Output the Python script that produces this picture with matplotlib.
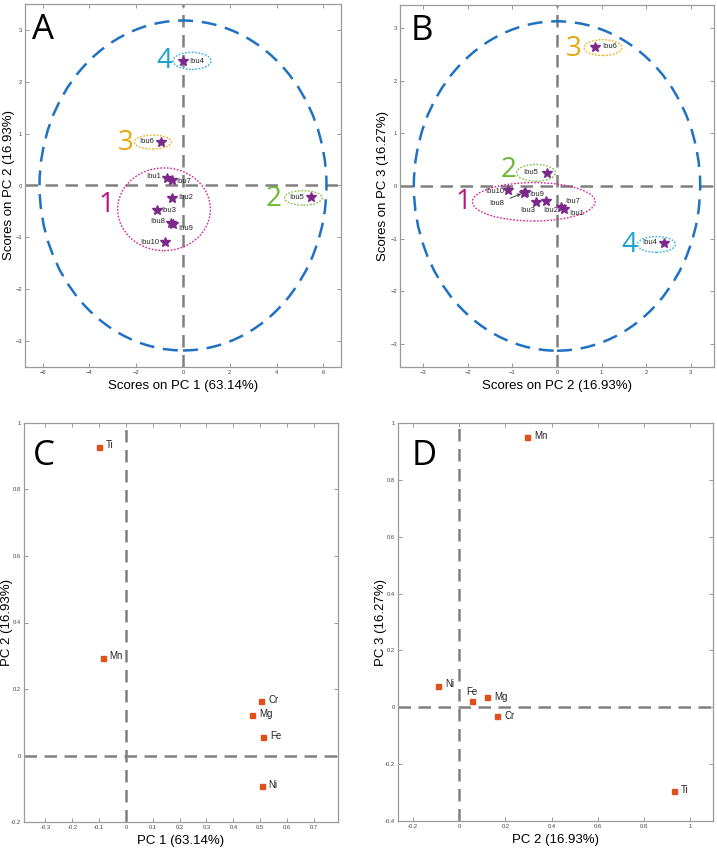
import matplotlib
matplotlib.use("Agg")
import matplotlib.pyplot as plt
from matplotlib.patches import Ellipse

plt.rcParams['font.family'] = ['Liberation Sans', 'DejaVu Sans']

# ---------------- data ----------------
samples = ["Ibu1", "Ibu2", "Ibu3", "Ibu4", "Ibu5", "Ibu6", "Ibu7", "Ibu8", "Ibu9", "Ibu10"]
pc1_scores = [-0.68, -0.46, -1.11, -0.01, 5.45, -0.93, -0.47, -0.51, -0.44, -0.78]
pc2_scores = [0.15, -0.24, -0.48, 2.40, -0.23, 0.85, 0.10, -0.72, -0.75, -1.10]
pc3_scores = [-0.44, -0.28, -0.31, -1.08, 0.25, 2.65, -0.40, -0.12, -0.14, -0.08]

elements = ["Ti", "Mn", "Cr", "Mg", "Fe", "Ni"]
pc1_load = [-0.102, -0.087, 0.504, 0.469, 0.512, 0.505]
pc2_load = [0.929, 0.294, 0.164, 0.122, 0.055, -0.092]
pc3_load = [-0.295, 0.951, -0.029, 0.036, 0.021, 0.076]

group_names = ["1", "2", "3", "4"]
# group ellipses: centre x, centre y, width, height (panel A: PC1 vs PC2)
groupA_cx = [-0.81, 5.14, -1.29, 0.385]
groupA_cy = [-0.46, -0.24, 0.84, 2.41]
groupA_w = [3.96, 1.61, 1.58, 1.62]
groupA_h = [1.60, 0.28, 0.27, 0.33]
groupA_lx = [-3.28, 3.87, -2.46, -0.80]
groupA_ly = [-0.38, -0.27, 0.83, 2.40]
# panel B: PC2 vs PC3
groupB_cx = [-0.52, -0.47, 1.03, 2.23]
groupB_cy = [-0.30, 0.25, 2.63, -1.11]
groupB_w = [2.75, 0.87, 0.85, 0.85]
groupB_h = [0.73, 0.32, 0.30, 0.30]
groupB_lx = [-2.10, -1.08, 0.37, 1.63]
groupB_ly = [-0.30, 0.30, 2.60, -1.13]

conf_A = (6.13, 3.19)   # Hotelling ellipse half-axes
conf_B = (3.21, 3.13)

# ---------------- styles ----------------
group_text_col = ["#B5177F", "#6DB832", "#E8A70C", "#1CA3CF"]
group_ell_col = ["#D8238E", "#7DC142", "#EDB11A", "#2AB0DA"]
star_col = "#7B2A8A"
sq_col = "#E0501B"
blue = "#1F72C2"
gray = "#808080"

# label offsets (points) and alignment for each sample
offA = {"Ibu1": (-4, 1, 'right'), "Ibu2": (4, 0, 'left'), "Ibu3": (3, 0, 'left'),
        "Ibu4": (5, 0, 'left'), "Ibu5": (-5, 0, 'right'), "Ibu6": (-5, 0, 'right'),
        "Ibu7": (3, -1, 'left'), "Ibu8": (-4, 1, 'right'), "Ibu9": (4, -3, 'left'),
        "Ibu10": (-4, 0, 'right')}
offB = {"Ibu1": (4, -3, 'left'), "Ibu2": (-2, -7, 'left'), "Ibu3": (-11, -6, 'left'),
        "Ibu4": (-5, 0, 'right'), "Ibu5": (-6, 0, 'right'), "Ibu6": (5, 0, 'left'),
        "Ibu7": (3, 4, 'left'), "Ibu9": (4, -1, 'left'), "Ibu10": (-3, -1, 'right')}
offC = {e: (5, 1, 'left') for e in elements}
offD = {"Ti": (5, 1, 'left'), "Mn": (5, 1, 'left'), "Cr": (5, 0, 'left'),
        "Mg": (5, 0, 'left'), "Fe": (0, 7, 'center'), "Ni": (5, 1, 'left')}

W, H = 717, 863
fig = plt.figure(figsize=(W / 100, H / 100), dpi=100)


def px_axes(l, r, t, b):
    return fig.add_axes([l / W, 1 - b / H, (r - l) / W, (b - t) / H])


def style_axes(ax):
    for s in ax.spines.values():
        s.set_color("#9a9a9a")
        s.set_linewidth(0.9)
    ax.tick_params(direction='in', length=3, width=0.6, color="#888888",
                   labelsize=4.2, labelcolor="#444444", pad=2,
                   top=True, right=True)


def set_labels(ax, xl, yl, ylx):
    ax.set_xlabel(xl, fontsize=9.5, labelpad=4)
    ax.set_ylabel(yl, fontsize=9.5)
    ax.yaxis.set_label_coords(ylx, 0.5)
    ax.yaxis.label.set_verticalalignment('center')


def zero_lines(ax):
    ax.axhline(0, color=gray, lw=1.8, ls=(0, (5, 3)), zorder=1)
    ax.axvline(0, color=gray, lw=1.8, ls=(0, (5, 3)), zorder=1)


def panel_letter(ax, s, x, y):
    ax.text(x, y, s, transform=ax.transAxes, fontsize=25,
            family='Open Sans', va='top', ha='left', color='black')


def group_label(ax, x, y, s, c):
    ax.text(x, y, s, color=c, fontsize=20, family='Open Sans', ha='center', va='center')


# ---------------- Panel A ----------------
axA = px_axes(25, 341, 4, 367)
style_axes(axA)
axA.set_xlim(-6.75, 6.75)
axA.set_ylim(-3.51, 3.51)
axA.set_xticks([-6, -4, -2, 0, 2, 4, 6])
axA.set_yticks([-3, -2, -1, 0, 1, 2, 3])
zero_lines(axA)
axA.add_patch(Ellipse((0, 0), 2 * conf_A[0], 2 * conf_A[1], fill=False,
                      ec=blue, lw=1.8, ls=(0, (6, 3.5)), zorder=2))
for i in range(4):
    axA.add_patch(Ellipse((groupA_cx[i], groupA_cy[i]), groupA_w[i], groupA_h[i],
                          fill=False, ec=group_ell_col[i], lw=1.0, ls=(0, (1.2, 1.2)), zorder=3))
    group_label(axA, groupA_lx[i], groupA_ly[i], group_names[i], group_text_col[i])
axA.plot(pc1_scores, pc2_scores, ls='none', marker='*', ms=7, color=star_col, zorder=5)
for n, x, y in zip(samples, pc1_scores, pc2_scores):
    dx, dy, ha = offA[n]
    axA.annotate(n, (x, y), xytext=(dx, dy), textcoords='offset points',
                 fontsize=5.5, ha=ha, va='center', color='#222222')
set_labels(axA, "Scores on PC 1 (63.14%)", "Scores on PC 2 (16.93%)", -0.05)
panel_letter(axA, "A", 0.022, 0.975)

# ---------------- Panel B ----------------
axB = px_axes(400, 714, 5, 367)
style_axes(axB)
axB.set_xlim(-3.52, 3.52)
axB.set_ylim(-3.44, 3.44)
axB.set_xticks([-3, -2, -1, 0, 1, 2, 3])
axB.set_yticks([-3, -2, -1, 0, 1, 2, 3])
zero_lines(axB)
axB.add_patch(Ellipse((0, 0), 2 * conf_B[0], 2 * conf_B[1], fill=False,
                      ec=blue, lw=1.8, ls=(0, (6, 3.5)), zorder=2))
for i in range(4):
    axB.add_patch(Ellipse((groupB_cx[i], groupB_cy[i]), groupB_w[i], groupB_h[i],
                          fill=False, ec=group_ell_col[i], lw=1.0, ls=(0, (1.2, 1.2)), zorder=3))
    group_label(axB, groupB_lx[i], groupB_ly[i], group_names[i], group_text_col[i])
axB.plot(pc2_scores, pc3_scores, ls='none', marker='*', ms=7, color=star_col, zorder=5)
for n, x, y in zip(samples, pc2_scores, pc3_scores):
    if n == "Ibu8":
        axB.annotate(n, (x, y), xytext=(-20, -8), textcoords='offset points',
                     fontsize=5.5, ha='center', va='center', color='#222222',
                     arrowprops=dict(arrowstyle='->', lw=0.6, color='#222222',
                                     shrinkA=2, shrinkB=3))
        continue
    dx, dy, ha = offB[n]
    axB.annotate(n, (x, y), xytext=(dx, dy), textcoords='offset points',
                 fontsize=5.5, ha=ha, va='center', color='#222222')
set_labels(axB, "Scores on PC 2 (16.93%)", "Scores on PC 3 (16.27%)", -0.054)
panel_letter(axB, "B", 0.033, 0.975)

# ---------------- Panel C ----------------
axC = px_axes(24, 338, 423, 822)
style_axes(axC)
axC.set_xlim(-0.38, 0.79)
axC.set_ylim(-0.2, 1.0)
axC.set_xticks([-0.3, -0.2, -0.1, 0, 0.1, 0.2, 0.3, 0.4, 0.5, 0.6, 0.7])
axC.set_xticklabels(["-0.3", "-0.2", "-0.1", "0", "0.1", "0.2", "0.3", "0.4", "0.5", "0.6", "0.7"])
axC.set_yticks([-0.2, 0, 0.2, 0.4, 0.6, 0.8, 1.0])
axC.set_yticklabels(["-0.2", "0", "0.2", "0.4", "0.6", "0.8", "1"])
zero_lines(axC)
axC.plot(pc1_load, pc2_load, ls='none', marker='s', ms=3.6, color=sq_col, zorder=5)
for n, x, y in zip(elements, pc1_load, pc2_load):
    dx, dy, ha = offC[n]
    axC.annotate(n, (x, y), xytext=(dx, dy), textcoords='offset points',
                 fontsize=7, ha=ha, va='center', color='#222222')
set_labels(axC, "PC 1 (63.14%)", "PC 2 (16.93%)", -0.054)
panel_letter(axC, "C", 0.027, 0.96)

# ---------------- Panel D ----------------
axD = px_axes(398, 713, 423, 821)
style_axes(axD)
axD.set_xlim(-0.266, 1.1)
axD.set_ylim(-0.4, 1.0)
axD.set_xticks([-0.2, 0, 0.2, 0.4, 0.6, 0.8, 1.0])
axD.set_xticklabels(["-0.2", "0", "0.2", "0.4", "0.6", "0.8", "1"])
axD.set_yticks([-0.4, -0.2, 0, 0.2, 0.4, 0.6, 0.8, 1.0])
axD.set_yticklabels(["-0.4", "-0.2", "0", "0.2", "0.4", "0.6", "0.8", "1"])
zero_lines(axD)
axD.plot(pc2_load, pc3_load, ls='none', marker='s', ms=3.6, color=sq_col, zorder=5)
for n, x, y in zip(elements, pc2_load, pc3_load):
    dx, dy, ha = offD[n]
    axD.annotate(n, (x, y), xytext=(dx, dy), textcoords='offset points',
                 fontsize=7, ha=ha, va='center', color='#222222')
set_labels(axD, "PC 2 (16.93%)", "PC 3 (16.27%)", -0.054)
panel_letter(axD, "D", 0.042, 0.96)

fig.savefig("out.png", dpi=100)
